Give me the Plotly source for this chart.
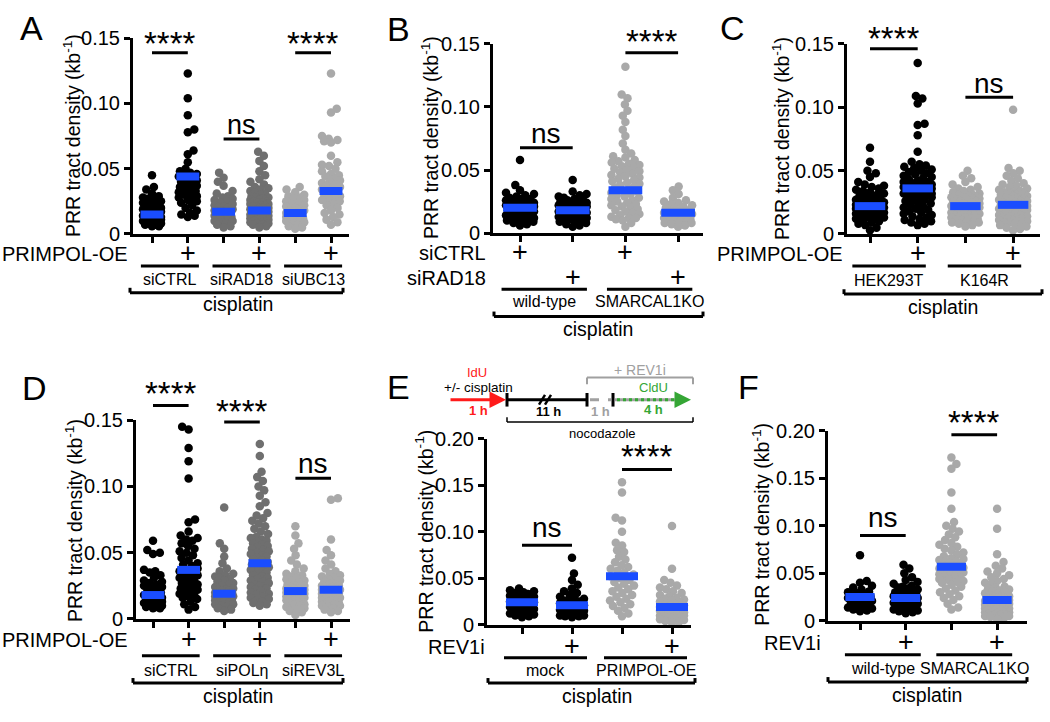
import math
import plotly.graph_objects as go

FONT = "Liberation Sans, Arial, Helvetica, sans-serif"
BLACK, DGRAY, LGRAY, BLUE = "#000000", "#6f6f6f", "#a9a9a9", "#1a4dff"
RED, GREEN, SGRAY = "#ff1a1a", "#35a635", "#a0a0a0"

# ---------------- DATA (PRR tract density, values in 1e-3 kb^-1) ----------------
# Panel A : PRIMPOL-OE -/+ in siCTRL, siRAD18, siUBC13 (cisplatin)
A_siCTRL_neg = [45, 36, 34, 31, 29, 28, 27, 26, 25, 24, 23, 22, 21, 20, 20, 19, 18, 18, 17, 17, 16, 16, 15, 15, 14,
                14, 13, 13, 12, 12, 12, 11, 11, 10, 10, 9, 9, 8, 8, 7, 7, 6, 6]
A_siCTRL_pos = [123, 104, 91, 80, 78, 64, 61, 55, 50, 48, 47, 46, 45, 44, 43, 42, 41, 40, 39, 38, 37, 36, 35, 34, 33,
                32, 31, 30, 29, 28, 27, 26, 25, 24, 22, 20, 18, 16, 15, 14, 13]
A_siRAD18_neg = [47, 43, 40, 37, 33, 31, 29, 28, 27, 26, 25, 24, 23, 22, 21, 20, 20, 19, 18, 18, 17, 16, 16, 15, 14,
                 14, 13, 12, 12, 11, 10, 10, 9, 8, 7, 6, 5]
A_siRAD18_pos = [63, 60, 56, 52, 48, 45, 42, 40, 38, 36, 35, 34, 33, 32, 31, 30, 29, 28, 28, 27, 26, 26, 25, 25, 24,
                 24, 23, 23, 22, 22, 21, 21, 20, 20, 20, 19, 19, 18, 18, 18, 17, 17, 16, 16, 16, 15, 15, 14, 14, 13,
                 13, 12, 12, 11, 11, 10, 10, 9, 9, 8, 8, 7, 7, 6, 5]
A_siUBC13_neg = [36, 34, 32, 30, 29, 28, 27, 26, 25, 24, 23, 22, 21, 20, 19, 18, 18, 17, 16, 16, 15, 15, 14, 13, 13,
                 12, 12, 11, 10, 10, 9, 8, 7, 6, 5, 4]
A_siUBC13_pos = [123, 96, 93, 75, 73, 72, 71, 70, 60, 55, 53, 52, 50, 48, 46, 45, 44, 42, 41, 40, 39, 38, 37, 36, 35,
                 34, 33, 32, 31, 30, 29, 28, 27, 26, 25, 23, 22, 20, 18, 16, 15, 13, 11, 9, 7]
A_means = [0.015, 0.044, 0.017, 0.018, 0.016, 0.033]
A_group_labels = ["siCTRL", "siRAD18", "siUBC13"]

# Panel B : siCTRL / siRAD18 in wild-type and SMARCAL1KO (cisplatin)
B_wt_siCTRL = [58, 38, 34, 32, 31, 30, 29, 28, 27, 27, 26, 26, 25, 25, 24, 24, 23, 23, 22, 22, 21, 21, 20, 20, 19, 19,
               18, 18, 17, 17, 16, 16, 15, 15, 14, 14, 13, 13, 12, 12, 11, 11, 10, 10, 9, 8, 7, 6]
B_wt_siRAD18 = [42, 33, 31, 30, 29, 28, 27, 26, 26, 25, 25, 24, 24, 23, 23, 22, 22, 21, 21, 20, 20, 19, 19, 18, 18,
                17, 17, 16, 16, 15, 15, 14, 14, 13, 13, 12, 12, 11, 11, 10, 10, 9, 8, 7, 6, 5]
B_ko_siCTRL = [132, 110, 107, 102, 97, 93, 88, 82, 77, 71, 66, 63, 61, 60, 58, 57, 56, 55, 54, 53, 52, 51, 50, 49, 48,
               47, 46, 45, 44, 43, 42, 41, 40, 39, 38, 37, 36, 35, 34, 33, 32, 31, 30, 29, 28, 27, 26, 25, 24, 23,
               22, 21, 20, 19, 18, 17, 16, 15, 14, 13, 12, 12, 11, 10, 8, 5]
B_ko_siRAD18 = [37, 34, 31, 28, 26, 25, 24, 23, 22, 21, 20, 19, 18, 18, 17, 16, 16, 15, 15, 14, 14, 13, 13, 12, 12,
                11, 11, 10, 10, 9, 9, 8, 8, 7, 6, 5]
B_means = [0.020, 0.018, 0.034, 0.016]
B_group_labels = ["wild-type", "SMARCAL1KO"]

# Panel C : PRIMPOL-OE -/+ in HEK293T and K164R (cisplatin)
C_hek_neg = [68, 57, 50, 48, 45, 41, 39, 38, 37, 36, 35, 34, 33, 32, 31, 30, 29, 28, 28, 27, 27, 26, 26, 25, 25, 24,
             24, 23, 23, 22, 22, 21, 21, 20, 20, 19, 19, 18, 18, 17, 17, 16, 16, 15, 15, 14, 14, 13, 13, 12, 11, 10,
             9, 8, 7, 5, 3]
C_hek_pos = [135, 109, 107, 103, 87, 86, 78, 65, 57, 55, 54, 53, 52, 51, 50, 49, 48, 47, 46, 45, 44, 43, 42, 41, 41,
             40, 40, 39, 39, 38, 38, 37, 37, 36, 36, 35, 35, 34, 34, 33, 33, 32, 32, 31, 31, 30, 30, 29, 28, 27, 26,
             25, 24, 23, 22, 21, 20, 19, 18, 17, 16, 15, 14, 13, 12, 11, 10, 9, 8, 7]
C_k164r_neg = [50, 46, 44, 41, 39, 37, 36, 35, 34, 33, 32, 31, 31, 30, 30, 29, 29, 28, 28, 27, 27, 26, 26, 25, 25, 24,
               24, 23, 23, 22, 22, 21, 21, 20, 20, 19, 19, 18, 18, 17, 17, 16, 16, 15, 15, 14, 14, 13, 13, 12, 12,
               11, 11, 10, 10, 9, 9, 8, 7, 6]
C_k164r_pos = [98, 52, 50, 48, 46, 44, 42, 40, 39, 38, 37, 36, 35, 34, 33, 33, 32, 32, 31, 31, 30, 30, 29, 29, 28, 28,
               27, 27, 26, 26, 25, 25, 24, 24, 23, 23, 22, 22, 21, 21, 20, 20, 19, 19, 18, 18, 17, 17, 16, 16, 15,
               15, 14, 14, 13, 13, 12, 12, 11, 11, 10, 10, 9, 9, 8, 8, 7, 6, 5, 4, 3]
C_means = [0.022, 0.036, 0.022, 0.023]
C_group_labels = ["HEK293T", "K164R"]

# Panel D : PRIMPOL-OE -/+ in siCTRL, siPOLη, siREV3L (cisplatin)
D_siCTRL_neg = [59, 52, 50, 49, 37, 36, 35, 33, 31, 29, 28, 27, 26, 25, 24, 23, 22, 21, 20, 19, 18, 17, 17, 16, 15,
                15, 14, 14, 13, 13, 12, 12, 11, 11, 10, 10, 9, 9, 8, 8]
D_siCTRL_pos = [145, 143, 129, 119, 106, 75, 73, 66, 63, 61, 60, 59, 57, 55, 53, 51, 50, 48, 46, 44, 42, 41, 40, 38,
                37, 36, 35, 34, 33, 32, 31, 30, 29, 28, 27, 26, 25, 24, 23, 22, 21, 20, 19, 18, 17, 16, 15, 13, 11,
                9, 7]
D_siPOLh_neg = [84, 57, 53, 47, 42, 38, 36, 34, 33, 32, 31, 30, 29, 28, 27, 26, 25, 24, 23, 22, 22, 21, 21, 20, 20,
                19, 19, 18, 18, 17, 17, 16, 16, 15, 15, 14, 14, 13, 13, 12, 12, 11, 11, 10, 9, 8, 7, 6]
D_siPOLh_pos = [132, 123, 111, 107, 104, 100, 97, 93, 88, 85, 80, 78, 76, 74, 72, 70, 68, 66, 64, 62, 61, 60, 59, 58,
                57, 56, 55, 54, 53, 52, 51, 50, 49, 48, 47, 46, 45, 44, 43, 42, 41, 40, 39, 38, 37, 36, 35, 34, 33,
                32, 31, 30, 29, 28, 27, 26, 25, 24, 23, 22, 21, 20, 19, 18, 17, 16, 15, 14, 13, 12, 11, 10]
D_siREV3L_neg = [70, 63, 57, 53, 48, 44, 41, 38, 36, 34, 33, 32, 31, 30, 29, 28, 27, 26, 25, 25, 24, 24, 23, 23, 22,
                 22, 21, 21, 20, 20, 19, 19, 18, 18, 17, 17, 16, 16, 15, 15, 14, 14, 13, 13, 12, 12, 11, 11, 10, 10,
                 9, 8, 7, 6, 5, 3]
D_siREV3L_pos = [91, 90, 60, 52, 48, 44, 41, 38, 36, 34, 33, 32, 31, 30, 29, 28, 27, 26, 26, 25, 25, 24, 24, 23, 23,
                 22, 22, 21, 21, 20, 20, 19, 19, 18, 18, 17, 17, 16, 16, 15, 15, 14, 14, 13, 13, 12, 12, 11, 11, 10,
                 10, 9, 8, 7, 6, 5]
D_means = [0.018, 0.037, 0.019, 0.042, 0.021, 0.022]
D_group_labels = ["siCTRL", "siPOLη", "siREV3L"]

# Panel E : REV1i -/+ in mock and PRIMPOL-OE (cisplatin)
E_mock_neg = [39, 37, 36, 35, 34, 33, 32, 31, 30, 29, 28, 27, 26, 25, 24, 23, 22, 21, 20, 19, 18, 17, 16, 15, 14, 13,
              12, 11, 10, 9, 8]
E_mock_pos = [72, 55, 48, 43, 39, 36, 34, 32, 30, 28, 27, 26, 25, 24, 23, 22, 21, 20, 19, 18, 17, 16, 15, 14, 13, 13,
              12, 12, 11, 11, 10, 10, 9, 9, 8]
E_oe_neg = [153, 142, 115, 112, 100, 88, 85, 80, 78, 73, 70, 67, 64, 62, 60, 58, 56, 54, 52, 50, 48, 46, 44, 42, 40,
            38, 36, 34, 32, 30, 28, 26, 24, 22, 20, 18, 15, 12, 9]
E_oe_pos = [106, 60, 48, 45, 42, 40, 38, 36, 34, 32, 30, 29, 28, 27, 26, 25, 24, 23, 22, 21, 20, 20, 19, 19, 18, 18,
            17, 17, 16, 16, 15, 15, 14, 14, 13, 13, 12, 12, 11, 11, 10, 10, 9, 9, 8, 7, 6, 5, 4, 3, 2]
E_means = [0.024, 0.021, 0.052, 0.019]
E_group_labels = ["mock", "PRIMPOL-OE"]

# Panel F : REV1i -/+ in wild-type and SMARCAL1KO (cisplatin)
F_wt_neg = [69, 42, 40, 37, 35, 33, 31, 30, 29, 28, 27, 26, 25, 24, 23, 22, 21, 20, 19, 17, 16, 15, 14, 13, 12, 11,
            10]
F_wt_pos = [59, 55, 50, 46, 43, 41, 39, 37, 36, 35, 34, 33, 32, 31, 30, 29, 28, 28, 27, 27, 26, 26, 25, 25, 24, 24,
            23, 23, 22, 22, 21, 21, 20, 20, 19, 19, 18, 18, 17, 17, 16, 15, 14, 13, 12, 11, 10, 9, 8]
F_ko_neg = [172, 165, 160, 135, 118, 104, 100, 97, 94, 91, 88, 85, 82, 80, 78, 76, 74, 72, 70, 68, 66, 65, 64, 63, 62,
            61, 60, 59, 58, 57, 56, 55, 54, 53, 52, 51, 50, 49, 48, 47, 46, 45, 44, 43, 42, 41, 40, 38, 36, 34, 32,
            30, 28, 26, 24, 22, 18, 14, 12]
F_ko_pos = [118, 97, 70, 62, 58, 55, 52, 50, 48, 46, 44, 42, 40, 38, 36, 35, 34, 33, 32, 31, 30, 29, 28, 27, 26, 25,
            25, 24, 24, 23, 23, 22, 22, 21, 21, 20, 20, 19, 19, 18, 18, 17, 17, 16, 16, 15, 15, 14, 14, 13, 13, 12,
            12, 11, 11, 10, 10, 9, 9, 8, 8, 7, 7, 6, 6, 5, 5, 4, 3, 2]
F_means = [0.025, 0.024, 0.057, 0.022]
F_group_labels = ["wild-type", "SMARCAL1KO"]

Y15_vals = [0, 0.05, 0.10, 0.15]
Y15_text = ["0", "0.05", "0.10", "0.15"]
Y20_vals = [0, 0.05, 0.10, 0.15, 0.20]
Y20_text = ["0", "0.05", "0.10", "0.15", "0.20"]

# ---------------- LAYOUT GEOMETRY (pixels of the 1050x722 canvas) ----------------
W, H = 1050, 722

panels = [
    dict(vals=[A_siCTRL_neg, A_siCTRL_pos, A_siRAD18_neg, A_siRAD18_pos, A_siUBC13_neg, A_siUBC13_pos],
         means=A_means, colors=[BLACK, BLACK, DGRAY, DGRAY, LGRAY, LGRAY],
         left=133, right=349, t0=152, sp=35.8, y0=230, ytop=28, ymax=0.15, yt=(Y15_vals, Y15_text), sw=9),
    dict(vals=[B_wt_siCTRL, B_wt_siRAD18, B_ko_siCTRL, B_ko_siRAD18],
         means=B_means, colors=[BLACK, BLACK, LGRAY, LGRAY],
         left=493, right=703, t0=520, sp=52.7, y0=229, ytop=34, ymax=0.15, yt=(Y15_vals, Y15_text), sw=14),
    dict(vals=[C_hek_neg, C_hek_pos, C_k164r_neg, C_k164r_pos],
         means=C_means, colors=[BLACK, BLACK, LGRAY, LGRAY],
         left=847, right=1040, t0=870, sp=47.7, y0=230, ytop=34, ymax=0.15, yt=(Y15_vals, Y15_text), sw=14),
    dict(vals=[D_siCTRL_neg, D_siCTRL_pos, D_siPOLh_neg, D_siPOLh_pos, D_siREV3L_neg, D_siREV3L_pos],
         means=D_means, colors=[BLACK, BLACK, DGRAY, DGRAY, LGRAY, LGRAY],
         left=136, right=350, t0=153, sp=35.6, y0=627, ytop=422, ymax=0.15, yt=(Y15_vals, Y15_text), sw=9),
    dict(vals=[E_mock_neg, E_mock_pos, E_oe_neg, E_oe_pos],
         means=E_means, colors=[BLACK, BLACK, LGRAY, LGRAY],
         left=487, right=691, t0=522, sp=50.0, y0=633, ytop=441, ymax=0.20, yt=(Y20_vals, Y20_text), sw=12),
    dict(vals=[F_wt_neg, F_wt_pos, F_ko_neg, F_ko_pos],
         means=F_means, colors=[BLACK, BLACK, LGRAY, LGRAY],
         left=828, right=1027, t0=860, sp=45.7, y0=629, ytop=433, ymax=0.20, yt=(Y20_vals, Y20_text), sw=12),
]


def swarm(ypx, half_w, dmin):
    """beeswarm horizontal offsets (px) for values given in px"""
    order = sorted(range(len(ypx)), key=lambda i: ypx[i])
    placed, out = [], [0.0] * len(ypx)
    flip = 1
    for i in order:
        y = ypx[i]
        near = [(a, b) for a, b in placed if abs(b - y) < dmin]
        cands = [0.0]
        for a, b in near:
            dx = math.sqrt(max(dmin * dmin - (b - y) ** 2, 0))
            cands += [a - dx, a + dx]
        cands.sort(key=lambda c: (round(abs(c), 4), flip * c))
        chosen = None
        for c in cands:
            if abs(c) <= half_w + 1e-6 and all((c - a) ** 2 + (y - b) ** 2 >= dmin * dmin - 1e-6 for a, b in near):
                chosen = c
                break
        if chosen is None:
            grid = [half_w * k / 8 for k in range(-8, 9)]
            chosen = max(grid, key=lambda c: (round(min(math.hypot(c - a, y - b) for a, b in near), 3), -abs(c), flip * c))
        flip = -flip
        placed.append((chosen, y))
        out[i] = chosen
    return out


fig = go.Figure()
layout = dict(width=W, height=H, margin=dict(l=0, r=0, t=0, b=0), paper_bgcolor="white",
              plot_bgcolor="rgba(0,0,0,0)", showlegend=False)
annotations, shapes = [], []


def T(text, x, y, size, xref="paper", anchor="center", color="black", angle=0, height=None):
    a = dict(text=text, x=(x / W if xref == "paper" else x), y=1 - y / H, xref=xref, yref="paper",
             xanchor=anchor, yanchor="middle", showarrow=False, textangle=angle,
             font=dict(size=size, family=FONT, color=color))
    if height:
        a["height"] = height
    annotations.append(a)


def L(x0, y0, x1, y1, xref="paper", width=3, color="black", dash="solid"):
    shapes.append(dict(type="line", xref=xref, yref="paper",
                       x0=(x0 / W if xref == "paper" else x0), x1=(x1 / W if xref == "paper" else x1),
                       y0=1 - y0 / H, y1=1 - y1 / H, line=dict(width=width, color=color, dash=dash)))


for k, p in enumerate(panels):
    s = "" if k == 0 else str(k + 1)
    n = len(p["vals"])
    ypx_per = (p["y0"] - p["ytop"]) / p["ymax"]
    layout["xaxis" + s] = dict(domain=[p["left"] / W, p["right"] / W],
                               range=[(p["left"] - p["t0"]) / p["sp"], (p["right"] - p["t0"]) / p["sp"]],
                               anchor="y" + s, showline=True, linewidth=3, linecolor="black", ticks="outside",
                               ticklen=6, tickwidth=3, tickcolor="black", tickvals=list(range(n)),
                               showticklabels=False, showgrid=False, zeroline=False, fixedrange=True)
    layout["yaxis" + s] = dict(domain=[1 - p["y0"] / H, 1 - p["ytop"] / H], range=[0, p["ymax"]],
                               anchor="x" + s, showline=True, linewidth=3, linecolor="black", ticks="outside",
                               ticklen=6, tickwidth=3, tickcolor="black", tickvals=p["yt"][0],
                               ticktext=p["yt"][1], tickfont=dict(size=20, family=FONT, color="black"),
                               showgrid=False, zeroline=False, fixedrange=True)
    for g, vals in enumerate(p["vals"]):
        yv = [v / 1000 for v in vals]
        offs = swarm([v * ypx_per for v in yv], p["sw"], 7.0)
        fig.add_trace(go.Scatter(x=[g + o / p["sp"] for o in offs], y=yv, mode="markers",
                                 marker=dict(size=8.5, color=p["colors"][g], line=dict(width=0)),
                                 xaxis="x" + s, yaxis="y" + s, cliponaxis=False, hoverinfo="skip"))
    for g, m in enumerate(p["means"]):
        fig.add_trace(go.Scatter(x=[g - 0.32, g + 0.32], y=[m, m], mode="lines",
                                 line=dict(width=8, color=BLUE), xaxis="x" + s, yaxis="y" + s,
                                 cliponaxis=False, hoverinfo="skip"))

XA, XB, XC, XD, XE, XF = "x", "x2", "x3", "x4", "x5", "x6"

# panel letters
for letter, x, y in [("A", 18, 18), ("B", 385, 19), ("C", 718, 18), ("D", 20, 389), ("E", 385, 388), ("F", 736, 388)]:
    T(letter, x, y, 34, anchor="left")

# y titles
YT = "PRR tract density (kb<sup>-1</sup>)"
for x, y in [(72, 129), (430, 131), (781, 132), (74, 526), (424, 537), (761, 530)]:
    T(YT, x, y, 19.5, angle=-90)


def sig(xref, g0, g1, ly, text, ty, size):
    L(g0, ly, g1, ly, xref=xref, width=3)
    T(text, (g0 + g1) / 2, ty, size, xref=xref)


# significance
sig(XA, 0, 1, 43, "****", 34, 33); sig(XA, 2, 3, 132, "ns", 117.5, 27); sig(XA, 4, 5, 43, "****", 34, 33)
sig(XB, 0, 1, 141, "ns", 126.5, 28); sig(XB, 2, 3, 43, "****", 31, 33)
sig(XC, 0, 1, 39, "****", 28, 33); sig(XC, 2, 3, 89, "ns", 75, 28)
sig(XD, 0, 1, 407, "****", 395, 33); sig(XD, 2, 3, 424, "****", 413, 33); sig(XD, 4, 5, 482, "ns", 467, 28)
sig(XE, 0, 1, 551, "ns", 533, 28); sig(XE, 2, 3, 473, "****", 460, 33)
sig(XF, 0, 1, 541, "ns", 522.5, 28); sig(XF, 2, 3, 437, "****", 424, 33)


def bracket(x0, x1, y):
    L(x0, y - 5, x0, y, width=3); L(x0, y, x1, y, width=3); L(x1, y - 5, x1, y, width=3)


def bottom(xref, row_labels, label_right, plus_rows, under_y, half, labels, label_y, label_x_shift,
           br, br_y, cis_x, cis_y):
    for (text, y), pluses in zip(row_labels, plus_rows):
        T(text, label_right, y + 1, 20, anchor="right", height=16)
        for g in pluses:
            T("+", g, y, 27, xref=xref, height=20)
    for j, lab in enumerate(labels):
        c = 2 * j + 0.5
        L(c - half + label_x_shift, under_y, c + half + label_x_shift, under_y, xref=xref, width=3)
        T(lab, c + label_x_shift, label_y, 16, xref=xref)
    bracket(br[0], br[1], br_y)
    T("cisplatin", cis_x, cis_y, 19.5)


bottom(XA, [("PRIMPOL-OE", 250)], 130, [[1, 3, 5]], 263, 0.81, A_group_labels, 277, 0.0, (130, 343), 290.5, 238, 302)
bottom(XB, [("siCTRL", 249), ("siRAD18", 274)], 488, [[0, 2], [1, 3]], 287, 0.81, B_group_labels, 300, -0.04,
       (494, 703), 315, 598, 328)
bottom(XC, [("PRIMPOL-OE", 250)], 845, [[1, 3]], 263, 0.77, C_group_labels, 278, -0.1, (844, 1042), 292, 943, 305)
bottom(XD, [("PRIMPOL-OE", 647.5)], 130, [[1, 3, 5]], 665, 0.81, D_group_labels, 680, 0.0, (133, 343), 693, 238, 707)
bottom(XE, [("REV1i", 655)], 487, [[1, 3]], 667, 0.83, E_group_labels, 680, -0.03, (488, 695), 693, 597, 707)
bottom(XF, [("REV1i", 651)], 823, [[1, 3]], 664, 0.83, F_group_labels, 678, 0.0, (828, 1027), 692, 927, 705)

# ---- panel E timeline schematic ----
annotations.append(dict(x=506 / W, y=1 - 401 / H, xref="paper", yref="paper", ax=-57, ay=0, text="",
                        showarrow=True, arrowhead=2, arrowsize=1.1, arrowwidth=3, arrowcolor=RED))
L(507, 401, 587, 401, width=3)
for xv in (507, 587, 613):
    L(xv, 394, xv, 408, width=3)
L(539, 406, 545, 396, width=2.5); L(545, 406, 551, 396, width=2.5)
L(590, 401, 611, 401, width=3, color=SGRAY, dash="dash")
L(615, 401, 684, 401, width=3, color=SGRAY)
L(617, 401, 682, 401, width=3, color=GREEN, dash="dot")
annotations.append(dict(x=691 / W, y=1 - 401 / H, xref="paper", yref="paper", ax=-10, ay=0, text="",
                        showarrow=True, arrowhead=2, arrowsize=1.1, arrowwidth=3, arrowcolor=GREEN))
L(587, 385, 587, 378, width=2, color=SGRAY); L(587, 378, 693, 378, width=2, color=SGRAY)
L(693, 378, 693, 385, width=2, color=SGRAY)
L(507, 419, 507, 424, width=1.5); L(507, 424, 693, 424, width=1.5); L(693, 424, 693, 419, width=1.5)
T("IdU", 477, 373, 13, color=RED)
T("+/- cisplatin", 478, 388, 13.5)
T("<b>1 h</b>", 478, 412, 13, color=RED)
T("<b>11 h</b>", 548, 413, 13)
T("<b>1 h</b>", 600, 413, 13, color=SGRAY)
T("CldU", 653, 388, 13, color=GREEN)
T("<b>4 h</b>", 653, 411, 13, color=GREEN)
T("+ REV1i", 640, 370, 14, color=SGRAY)
T("nocodazole", 602, 436, 13)

layout["annotations"] = annotations
layout["shapes"] = shapes
fig.update_layout(**layout)
# remove the browser's default 8px body margin so the 1050x722 figure fills the window exactly
fig.write_html("out.html", config={"displayModeBar": False, "staticPlot": True},
               post_script="document.body.style.margin='0px';document.body.style.overflow='hidden';")
